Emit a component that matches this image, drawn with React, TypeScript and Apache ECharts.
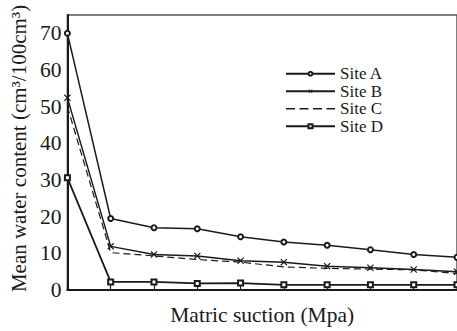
import React, { useEffect, useRef } from "react";
import * as echarts from "echarts";

const categories = ["1", "2", "3", "4", "5", "6", "7", "8", "9", "10"];
const siteA = [70, 19.5, 17.0, 16.7, 14.5, 13.1, 12.2, 11.0, 9.7, 8.9];
const siteB = [52.4, 11.9, 9.7, 9.3, 8.0, 7.6, 6.5, 6.1, 5.6, 5.0];
const siteC = [50, 10.2, 9.3, 8.3, 7.6, 6.3, 5.9, 5.7, 5.5, 4.5];
const siteD = [30.6, 2.2, 2.2, 1.8, 1.9, 1.4, 1.4, 1.4, 1.4, 1.4];
const yTicks = [0, 10, 20, 30, 40, 50, 60, 70];

const FONT = "Liberation Serif";
const INK = "#1a1a1a";
const X_SYMBOL = "path://M0,1.2 L1.2,0 L5,3.8 L8.8,0 L10,1.2 L6.2,5 L10,8.8 L8.8,10 L5,6.2 L1.2,10 L0,8.8 L3.8,5 Z";
const DASH_ICON = "path://M0,0h9v1.6h-9z M13.5,0h9v1.6h-9z M27,0h9v1.6h-9z M40.5,0h8.5v1.6h-8.5z";

export default function App() {
  const ref = useRef<HTMLDivElement>(null);
  useEffect(() => {
    if (!ref.current) return;
    const chart = echarts.init(ref.current, undefined, { renderer: "svg" });
    const base = {
      type: "line" as const,
      color: INK,
      showSymbol: true,
      z: 3,
    };
    chart.setOption({
      animation: false,
      backgroundColor: "#ffffff",
      textStyle: { fontFamily: FONT },
      grid: { left: 67, top: 15, width: 394, height: 283, show: true, borderColor: "#555", borderWidth: 1.5 },
      legend: {
        orient: "vertical",
        left: 285,
        top: 65,
        padding: 0,
        itemWidth: 49,
        itemHeight: 5,
        itemGap: 0,
        textStyle: { fontFamily: FONT, fontSize: 17, color: INK, lineHeight: 17.5 },
        data: [
          { name: "Site A" },
          { name: "Site B" },
          { name: "Site C", icon: DASH_ICON, itemStyle: { color: INK } },
          { name: "Site D" },
        ],
      },
      xAxis: {
        type: "category",
        data: categories,
        boundaryGap: false,
        name: "Matric suction (Mpa)",
        nameLocation: "middle",
        nameGap: 14,
        nameTextStyle: { fontFamily: FONT, fontSize: 21.5, color: INK },
        axisLine: { lineStyle: { color: INK, width: 2 } },
        axisTick: { inside: true, length: 5, lineStyle: { color: INK, width: 1.2 } },
        axisLabel: { show: false },
        splitLine: { show: false },
      },
      yAxis: {
        type: "value",
        min: 0,
        max: 75,
        interval: 10,
        name: "Mean water content (cm³/100cm³)",
        nameLocation: "middle",
        nameGap: 38,
        nameTextStyle: { fontFamily: FONT, fontSize: 21, color: INK, padding: [0, 0, 0, 8] },
        axisLine: { show: true, lineStyle: { color: INK, width: 2 } },
        axisTick: { inside: true, length: 4, lineStyle: { color: INK, width: 1.2 } },
        axisLabel: {
          fontFamily: FONT,
          fontSize: 21.5,
          color: INK,
          margin: 6,
          formatter: (v: number) => (yTicks.includes(v) ? String(v) : ""),
        },
        splitLine: { show: false },
      },
      series: [
        {
          ...base,
          name: "Site A",
          data: siteA,
          symbol: "emptyCircle",
          symbolSize: 5,
          lineStyle: { color: INK, width: 1.5 },
          itemStyle: { color: INK, borderColor: INK, borderWidth: 1.2 },
        },
        {
          ...base,
          name: "Site B",
          data: siteB,
          symbol: X_SYMBOL,
          symbolSize: 7,
          lineStyle: { color: INK, width: 1.5 },
          itemStyle: { color: INK, borderWidth: 0 },
        },
        {
          ...base,
          name: "Site C",
          data: siteC,
          symbol: "none",
          lineStyle: { color: INK, width: 1.2, type: [7, 4] },
          itemStyle: { color: INK },
        },
        {
          ...base,
          name: "Site D",
          data: siteD,
          symbol: "emptyRect",
          symbolSize: 5,
          lineStyle: { color: INK, width: 1.8 },
          itemStyle: { color: INK, borderColor: INK, borderWidth: 1.3 },
        },
      ],
    });
    return () => chart.dispose();
  }, []);
  return (
    <div
      ref={ref}
      style={{ position: "absolute", left: 0, top: 0, width: 457, height: 331, background: "#fff", overflow: "hidden" }}
    />
  );
}
